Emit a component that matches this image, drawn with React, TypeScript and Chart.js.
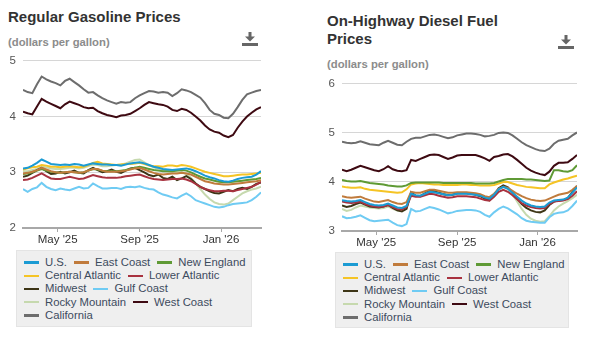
import React, { useEffect, useRef } from "react";
import { Chart, registerables } from "chart.js";
Chart.register(...registerables);

const FONT = "'Liberation Sans', Arial, sans-serif";

const weeks = [
  "2025-03-10", "2025-03-17", "2025-03-24", "2025-03-31", "2025-04-07", "2025-04-14", "2025-04-21", "2025-04-28",
  "2025-05-05", "2025-05-12", "2025-05-19", "2025-05-26", "2025-06-02", "2025-06-09", "2025-06-16", "2025-06-23",
  "2025-06-30", "2025-07-07", "2025-07-14", "2025-07-21", "2025-07-28", "2025-08-04", "2025-08-11", "2025-08-18",
  "2025-08-25", "2025-09-01", "2025-09-08", "2025-09-15", "2025-09-22", "2025-09-29", "2025-10-06", "2025-10-13",
  "2025-10-20", "2025-10-27", "2025-11-03", "2025-11-10", "2025-11-17", "2025-11-24", "2025-12-01", "2025-12-08",
  "2025-12-15", "2025-12-22", "2025-12-29", "2026-01-05", "2026-01-12", "2026-01-19", "2026-01-26", "2026-02-02",
  "2026-02-09", "2026-02-16", "2026-02-23", "2026-03-02",
];

const seriesNames = [
  "U.S.", "East Coast", "New England", "Central Atlantic", "Lower Atlantic",
  "Midwest", "Gulf Coast", "Rocky Mountain", "West Coast", "California",
];
const seriesColors = [
  "#1b9bd3", "#c07b3c", "#5f9a35", "#f5c425", "#a8323f",
  "#3d3516", "#6fcbf3", "#c6d9ae", "#3e0a12", "#6d6d6d",
];

const xTickDates = ["2025-05-01", "2025-09-01", "2026-01-01"];
const xTickLabels = ["May '25", "Sep '25", "Jan '26"];
const gasYTicks = [2, 3, 4, 5];
const dieselYTicks = [3, 4, 5, 6];

// Regular gasoline ($/gal)
const gasUS = [3.07,3.08,3.12,3.17,3.23,3.19,3.15,3.14,3.13,3.14,3.13,3.15,3.14,3.12,3.14,3.16,3.15,3.14,3.14,3.13,3.13,3.12,3.14,3.16,3.17,3.18,3.16,3.13,3.10,3.08,3.06,3.05,3.04,3.05,3.06,3.07,3.05,3.02,2.98,2.94,2.91,2.89,2.86,2.84,2.83,2.85,2.88,2.90,2.91,2.92,2.96,3.02];
const gasEast = [2.98,2.99,3.01,3.04,3.08,3.05,3.02,3.00,2.99,3.00,3.01,3.00,2.99,3.00,3.03,3.06,3.06,3.03,3.01,3.01,3.01,3.02,3.03,3.05,3.07,3.08,3.05,3.02,2.99,2.97,2.96,2.97,2.98,2.98,2.99,2.98,2.96,2.92,2.88,2.84,2.82,2.80,2.79,2.78,2.78,2.79,2.80,2.81,2.82,2.83,2.84,2.86];
const gasNewEngland = [2.97,2.98,3.00,3.03,3.06,3.03,3.01,3.00,2.99,3.00,3.01,3.00,2.99,3.00,3.03,3.06,3.05,3.03,3.02,3.02,3.02,3.03,3.04,3.06,3.08,3.10,3.08,3.06,3.04,3.03,3.02,3.02,3.02,3.03,3.04,3.03,3.00,2.96,2.92,2.89,2.87,2.85,2.83,2.82,2.82,2.83,2.84,2.85,2.86,2.87,2.88,2.90];
const gasCentralAtl = [3.05,3.07,3.09,3.10,3.13,3.12,3.10,3.10,3.09,3.10,3.11,3.10,3.09,3.10,3.13,3.17,3.19,3.16,3.15,3.14,3.13,3.14,3.15,3.15,3.16,3.17,3.15,3.12,3.11,3.11,3.10,3.12,3.12,3.11,3.13,3.12,3.10,3.07,3.04,3.01,2.99,2.97,2.95,2.93,2.93,2.94,2.95,2.96,2.96,2.97,2.98,2.99];
const gasLowerAtl = [2.86,2.87,2.90,2.94,2.98,2.93,2.89,2.88,2.88,2.90,2.92,2.90,2.88,2.89,2.92,2.95,2.93,2.91,2.90,2.90,2.90,2.91,2.93,2.94,2.95,2.96,2.93,2.90,2.88,2.87,2.86,2.87,2.88,2.88,2.89,2.87,2.84,2.79,2.74,2.70,2.68,2.66,2.66,2.67,2.67,2.66,2.68,2.70,2.72,2.74,2.78,2.83];
const gasMidwest = [2.92,2.94,2.99,3.04,3.08,3.02,2.97,2.98,3.01,2.98,3.00,3.03,2.99,2.98,3.04,3.08,3.04,3.00,3.02,3.05,3.01,2.99,3.03,3.07,3.08,3.04,3.00,2.95,2.93,2.96,2.90,2.88,2.92,2.86,2.89,2.93,2.88,2.80,2.74,2.70,2.66,2.63,2.62,2.65,2.68,2.66,2.70,2.72,2.70,2.74,2.79,2.82];
const gasGulf = [2.70,2.65,2.70,2.73,2.81,2.74,2.70,2.68,2.71,2.69,2.68,2.71,2.74,2.71,2.72,2.80,2.75,2.71,2.71,2.72,2.72,2.70,2.73,2.74,2.73,2.75,2.72,2.70,2.69,2.64,2.60,2.58,2.55,2.53,2.58,2.62,2.57,2.50,2.47,2.44,2.41,2.38,2.37,2.38,2.41,2.43,2.44,2.45,2.46,2.50,2.56,2.64];
const gasRocky = [3.02,3.02,3.04,3.06,3.10,3.09,3.07,3.06,3.06,3.07,3.08,3.08,3.07,3.08,3.11,3.14,3.13,3.11,3.11,3.12,3.13,3.14,3.16,3.19,3.22,3.23,3.18,3.13,3.09,3.06,3.04,3.02,3.00,3.00,3.00,2.97,2.90,2.80,2.70,2.60,2.52,2.46,2.43,2.42,2.44,2.50,2.56,2.62,2.66,2.69,2.71,2.74];
const gasWestCoast = [4.09,4.06,4.04,4.18,4.32,4.27,4.23,4.19,4.15,4.22,4.27,4.24,4.21,4.17,4.15,4.16,4.10,4.06,4.03,4.01,3.99,4.02,4.03,4.05,4.10,4.15,4.21,4.26,4.24,4.22,4.21,4.18,4.12,4.10,4.14,4.12,4.07,4.00,3.93,3.84,3.77,3.73,3.71,3.66,3.63,3.67,3.80,3.91,4.00,4.07,4.13,4.17];
const gasCalifornia = [4.48,4.44,4.42,4.58,4.72,4.67,4.63,4.60,4.56,4.64,4.68,4.62,4.56,4.49,4.43,4.44,4.38,4.33,4.29,4.26,4.23,4.26,4.25,4.26,4.33,4.38,4.42,4.46,4.45,4.43,4.44,4.43,4.37,4.42,4.49,4.47,4.44,4.39,4.34,4.24,4.12,4.05,4.03,3.98,3.97,4.05,4.17,4.30,4.40,4.43,4.46,4.48];

// On-highway diesel ($/gal)
const dslUS = [3.63,3.61,3.60,3.61,3.63,3.59,3.55,3.53,3.52,3.53,3.56,3.52,3.48,3.47,3.51,3.76,3.73,3.72,3.76,3.80,3.79,3.77,3.75,3.73,3.74,3.76,3.76,3.76,3.75,3.74,3.72,3.68,3.66,3.74,3.85,3.90,3.86,3.78,3.70,3.62,3.56,3.52,3.50,3.49,3.50,3.58,3.62,3.63,3.64,3.68,3.78,3.89];
const dslEast = [3.71,3.69,3.68,3.69,3.70,3.66,3.63,3.60,3.59,3.61,3.63,3.59,3.56,3.55,3.59,3.80,3.78,3.78,3.81,3.84,3.84,3.82,3.80,3.78,3.78,3.79,3.79,3.79,3.78,3.77,3.75,3.71,3.69,3.76,3.86,3.90,3.88,3.82,3.76,3.71,3.67,3.64,3.62,3.61,3.62,3.66,3.70,3.74,3.76,3.78,3.84,3.92];
const dslNewEngland = [4.04,4.02,4.01,4.01,4.02,4.00,3.98,3.97,3.96,3.95,3.93,3.92,3.91,3.91,3.93,3.98,3.99,3.99,3.99,3.99,3.99,3.99,3.98,3.98,3.98,3.98,3.98,3.98,3.98,3.97,3.97,3.97,3.97,3.98,4.01,4.04,4.06,4.06,4.06,4.06,4.05,4.05,4.04,4.03,4.02,4.03,4.24,4.24,4.22,4.21,4.24,4.34];
const dslCentralAtl = [3.91,3.89,3.88,3.88,3.89,3.86,3.84,3.83,3.82,3.81,3.80,3.79,3.78,3.79,3.85,3.95,3.97,3.98,3.97,3.96,3.95,3.95,3.94,3.94,3.94,3.94,3.95,3.95,3.94,3.94,3.93,3.93,3.93,3.94,3.97,4.00,4.00,3.97,3.94,3.92,3.90,3.89,3.88,3.87,3.87,3.95,3.99,4.02,4.05,4.07,4.10,4.13];
const dslLowerAtl = [3.60,3.58,3.57,3.58,3.60,3.55,3.52,3.50,3.49,3.50,3.53,3.49,3.45,3.44,3.49,3.72,3.70,3.70,3.73,3.76,3.75,3.72,3.70,3.68,3.69,3.71,3.71,3.71,3.70,3.69,3.66,3.63,3.62,3.70,3.80,3.84,3.80,3.73,3.65,3.57,3.52,3.49,3.47,3.46,3.47,3.55,3.60,3.61,3.62,3.65,3.72,3.81];
const dslMidwest = [3.52,3.49,3.51,3.55,3.58,3.54,3.50,3.49,3.48,3.50,3.53,3.47,3.42,3.40,3.45,3.79,3.72,3.71,3.77,3.82,3.81,3.78,3.75,3.73,3.74,3.77,3.77,3.77,3.76,3.74,3.71,3.66,3.63,3.73,3.87,3.93,3.89,3.78,3.66,3.55,3.47,3.42,3.39,3.38,3.42,3.53,3.60,3.62,3.63,3.67,3.80,3.92];
const dslGulf = [3.30,3.26,3.27,3.29,3.32,3.27,3.22,3.20,3.21,3.22,3.23,3.17,3.12,3.10,3.14,3.45,3.40,3.41,3.45,3.49,3.47,3.44,3.40,3.36,3.38,3.41,3.42,3.43,3.43,3.42,3.39,3.33,3.29,3.38,3.45,3.50,3.46,3.40,3.34,3.26,3.21,3.19,3.18,3.17,3.17,3.28,3.35,3.37,3.38,3.42,3.51,3.62];
const dslRocky = [3.45,3.41,3.43,3.48,3.52,3.50,3.48,3.47,3.46,3.47,3.50,3.45,3.42,3.42,3.46,3.74,3.72,3.72,3.75,3.79,3.79,3.77,3.76,3.74,3.74,3.76,3.77,3.77,3.76,3.75,3.72,3.66,3.62,3.72,3.85,3.90,3.86,3.75,3.60,3.45,3.33,3.25,3.21,3.19,3.20,3.30,3.42,3.50,3.56,3.61,3.67,3.74];
const dslWestCoast = [4.25,4.22,4.25,4.29,4.33,4.30,4.27,4.24,4.22,4.26,4.32,4.26,4.23,4.22,4.24,4.45,4.43,4.47,4.51,4.55,4.56,4.55,4.51,4.47,4.50,4.54,4.55,4.55,4.55,4.55,4.52,4.48,4.43,4.51,4.53,4.56,4.57,4.52,4.45,4.37,4.29,4.23,4.19,4.16,4.14,4.21,4.33,4.39,4.39,4.40,4.47,4.55];
const dslCalifornia = [4.82,4.80,4.79,4.80,4.83,4.80,4.77,4.76,4.75,4.80,4.84,4.80,4.76,4.75,4.82,4.88,4.90,4.90,4.93,4.96,4.97,4.95,4.92,4.89,4.91,4.95,4.97,4.99,4.99,4.98,4.96,4.93,4.94,4.96,5.00,5.01,5.00,4.95,4.88,4.81,4.75,4.71,4.67,4.64,4.63,4.68,4.78,4.84,4.86,4.88,4.95,5.01];

const gasSeries = [gasUS, gasEast, gasNewEngland, gasCentralAtl, gasLowerAtl, gasMidwest, gasGulf, gasRocky, gasWestCoast, gasCalifornia];
const dslSeries = [dslUS, dslEast, dslNewEngland, dslCentralAtl, dslLowerAtl, dslMidwest, dslGulf, dslRocky, dslWestCoast, dslCalifornia];

type Box = { x: number; y: number; w: number; h: number };
type Plot = { top: number; right: number; yAxisWidth: number; xAxisHeight: number };

function FuelChart({ series, yTicks, box, plot }: { series: number[][]; yTicks: number[]; box: Box; plot: Plot }) {
  const ref = useRef<HTMLCanvasElement>(null);
  useEffect(() => {
    const xs = weeks.map((w) => Date.parse(w));
    const tickVals = xTickDates.map((d) => Date.parse(d));
    const yMin = yTicks[0];
    const yMax = yTicks[yTicks.length - 1];
    const chart = new Chart(ref.current as HTMLCanvasElement, {
      type: "line",
      data: {
        datasets: seriesNames.map((name, k) => ({
          label: name,
          data: series[k].map((v, i) => ({ x: xs[i], y: v })),
          borderColor: seriesColors[k],
          backgroundColor: seriesColors[k],
          borderWidth: 2,
          pointRadius: 0,
          tension: 0,
          fill: false,
        })),
      },
      options: {
        animation: false,
        responsive: false,
        maintainAspectRatio: false,
        layout: { padding: { top: plot.top, right: plot.right, left: 0, bottom: 0 } },
        plugins: { legend: { display: false }, tooltip: { enabled: false }, title: { display: false } },
        scales: {
          x: {
            type: "linear",
            min: xs[0],
            max: xs[xs.length - 1],
            afterBuildTicks: (s: any) => {
              s.ticks = tickVals.map((v) => ({ value: v }));
            },
            afterFit: (s: any) => {
              s.height = plot.xAxisHeight;
            },
            ticks: {
              callback: (_v: any, i: number) => xTickLabels[i],
              maxRotation: 0,
              autoSkip: false,
              color: "#333333",
              font: { family: FONT, size: 11.5 },
              padding: 1,
            },
            grid: { drawOnChartArea: false, drawTicks: true, tickLength: 4, color: "#a8a8a8", lineWidth: 1 },
            border: { display: true, color: "#a8a8a8", width: 2 },
          },
          y: {
            type: "linear",
            min: yMin,
            max: yMax,
            afterBuildTicks: (s: any) => {
              s.ticks = yTicks.map((v) => ({ value: v }));
            },
            afterFit: (s: any) => {
              s.width = plot.yAxisWidth;
            },
            ticks: { color: "#555555", font: { family: FONT, size: 11.5 }, padding: 7 },
            grid: {
              drawTicks: false,
              lineWidth: 1,
              color: (ctx: any) => (ctx.tick && ctx.tick.value === yMin ? "rgba(0,0,0,0)" : "#d6d6d6"),
            },
            border: { display: false },
          },
        },
      },
    } as any);
    return () => chart.destroy();
  }, []);
  return (
    <canvas
      ref={ref}
      width={box.w}
      height={box.h}
      style={{ position: "absolute", left: box.x, top: box.y, width: box.w, height: box.h }}
    />
  );
}

function DownloadIcon({ x, y }: { x: number; y: number }) {
  return (
    <svg width={16} height={14} viewBox="0 0 16 14" style={{ position: "absolute", left: x, top: y }}>
      <rect x={6.5} y={0} width={3} height={5} fill="#666" />
      <polygon points="3,4.5 13,4.5 8,9.5" fill="#666" />
      <rect x={0} y={11} width={16} height={3} fill="#666" />
    </svg>
  );
}

function Legend({ x, y, w, h }: { x: number; y: number; w: number; h: number }) {
  return (
    <div
      style={{
        position: "absolute",
        left: x,
        top: y,
        width: w,
        height: h,
        boxSizing: "border-box",
        background: "#efefef",
        border: "1px solid #e4e4e4",
        padding: "5px 0 0 7px",
        display: "flex",
        flexWrap: "wrap",
        alignContent: "flex-start",
        columnGap: 7,
        fontFamily: FONT,
        fontSize: 11.3,
        lineHeight: "13.2px",
        color: "#3d4b5e",
      }}
    >
      {seriesNames.map((n, k) => (
        <div key={n} style={{ display: "flex", alignItems: "center", whiteSpace: "nowrap" }}>
          <span style={{ display: "inline-block", width: 15, height: 2.5, background: seriesColors[k], marginRight: 6 }} />
          {n}
        </div>
      ))}
    </div>
  );
}

export default function App() {
  const titleStyle: React.CSSProperties = {
    position: "absolute",
    fontFamily: FONT,
    fontWeight: "bold",
    fontSize: 15,
    lineHeight: "18px",
    color: "#333333",
    margin: 0,
  };
  const subStyle: React.CSSProperties = {
    position: "absolute",
    fontFamily: FONT,
    fontWeight: "bold",
    fontSize: 11.3,
    lineHeight: "14px",
    color: "#8c8c8c",
  };
  return (
    <div style={{ position: "fixed", left: 0, top: 0, width: 600, height: 337, background: "#fff", overflow: "hidden" }}>
      <div style={{ ...titleStyle, left: 8, top: 8 }}>Regular Gasoline Prices</div>
      <div style={{ ...subStyle, left: 8, top: 35 }}>(dollars per gallon)</div>
      <DownloadIcon x={242} y={32} />
      <FuelChart
        series={gasSeries}
        yTicks={gasYTicks}
        box={{ x: 0, y: 47, w: 270, h: 205 }}
        plot={{ top: 10, right: 9, yAxisWidth: 23, xAxisHeight: 24 }}
      />
      <Legend x={16} y={250} w={236} h={77} />

      <div style={{ ...titleStyle, left: 327, top: 12, width: 200 }}>
        On-Highway Diesel Fuel
        <br />
        Prices
      </div>
      <div style={{ ...subStyle, left: 327, top: 57 }}>(dollars per gallon)</div>
      <DownloadIcon x={558} y={35} />
      <FuelChart
        series={dslSeries}
        yTicks={dieselYTicks}
        box={{ x: 318, y: 70, w: 270, h: 185 }}
        plot={{ top: 11, right: 11, yAxisWidth: 24, xAxisHeight: 24 }}
      />
      <Legend x={335} y={252} w={234} h={76} />
    </div>
  );
}
